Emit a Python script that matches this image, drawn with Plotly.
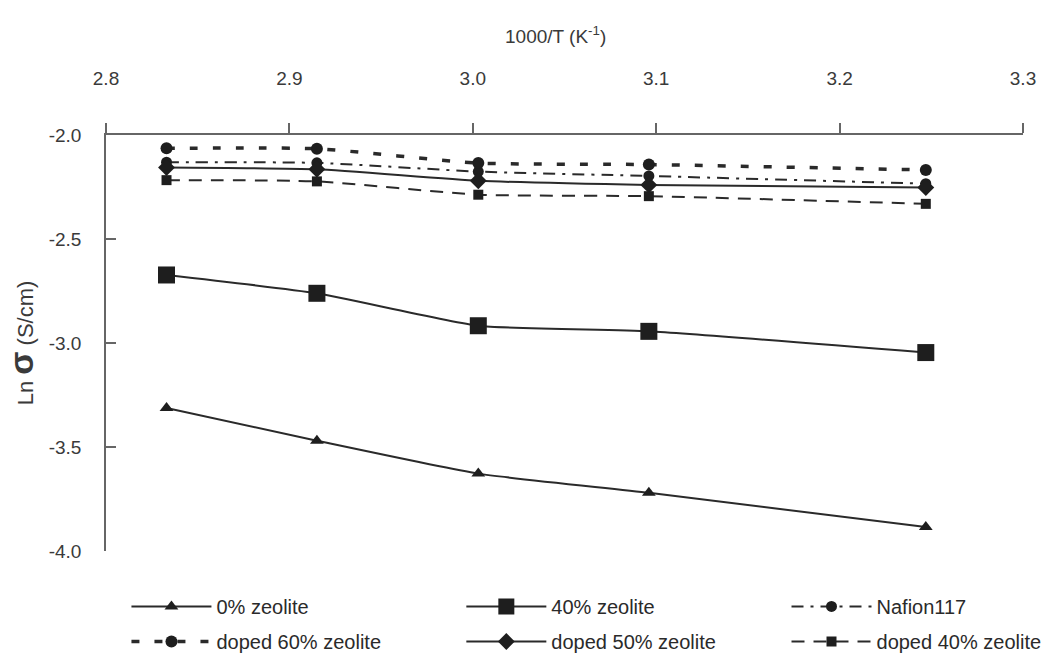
import plotly.graph_objects as go

x_vals = [2.833, 2.915, 3.003, 3.096, 3.247]

names = ["0% zeolite", "40% zeolite", "Nafion117",
         "doped 60% zeolite", "doped 50% zeolite", "doped 40% zeolite"]

zeolite0 = [-3.313, -3.470, -3.628, -3.720, -3.885]
zeolite40 = [-2.673, -2.761, -2.917, -2.944, -3.046]
nafion117 = [-2.131, -2.134, -2.176, -2.197, -2.234]
doped60 = [-2.064, -2.066, -2.135, -2.142, -2.168]
doped50 = [-2.156, -2.165, -2.220, -2.240, -2.253]
doped40 = [-2.217, -2.223, -2.287, -2.294, -2.331]

series = [zeolite0, zeolite40, nafion117, doped60, doped50, doped40]
legend_ids = ["legend", "legend2", "legend3", "legend", "legend2", "legend3"]
styles = [
    dict(dash="solid", width=2, symbol="triangle-up", size=12),
    dict(dash="solid", width=2, symbol="square", size=17),
    dict(dash="12px,7px,3px,7px", width=2, symbol="circle", size=11),
    dict(dash="8px,15px", width=3.5, symbol="circle", size=12),
    dict(dash="solid", width=2, symbol="diamond", size=13),
    dict(dash="13px,9px", width=2, symbol="square", size=10),
]

line_color = "#2a2a2a"
marker_color = "#1e1e1e"
FONT = "Liberation Sans, Arial, sans-serif"

fig = go.Figure()
for name, ys, st, lg in zip(names, series, styles, legend_ids):
    fig.add_trace(go.Scatter(
        x=x_vals, y=ys, name=name, mode="lines+markers",
        legend=lg, legendgroup=name,
        line=dict(color=line_color, width=st["width"], dash=st["dash"],
                  shape="spline", smoothing=0.5),
        marker=dict(symbol=st["symbol"], size=st["size"], color=marker_color),
        hoverinfo="skip",
    ))

legend_common = dict(orientation="v", xanchor="left", yanchor="top", y=-0.0865,
                     font=dict(size=20, family=FONT, color="#2a2a2a"),
                     tracegroupgap=6, itemwidth=80, bgcolor="rgba(0,0,0,0)")

fig.update_layout(
    width=1045, height=660,
    margin=dict(l=106, r=22, t=135, b=109, autoexpand=False),
    paper_bgcolor="white", plot_bgcolor="white",
    font=dict(family=FONT, size=19, color="#3a3a3a"),
    showlegend=True,
    legend=dict(x=0.0223, **legend_common),
    legend2=dict(x=0.3875, **legend_common),
    legend3=dict(x=0.7421, **legend_common),
    xaxis=dict(
        range=[2.8, 3.3], side="top", tickvals=[2.8, 2.9, 3.0, 3.1, 3.2, 3.3],
        ticktext=["2.8", "2.9", "3.0", "3.1", "3.2", "3.3"],
        showline=True, linecolor="#666", linewidth=1.5, mirror=False,
        ticks="outside", ticklen=10, tickcolor="#666", tickwidth=1.5,
        ticklabelstandoff=31, showgrid=False, zeroline=False,
        tickfont=dict(size=19),
    ),
    yaxis=dict(
        range=[-4.0, -2.0], tickvals=[-2.0, -2.5, -3.0, -3.5, -4.0],
        ticktext=["-2.0", "-2.5", "-3.0", "-3.5", "-4.0"],
        showline=True, linecolor="#666", linewidth=1.5, mirror=False,
        ticks="inside", ticklen=10, tickcolor="#666", tickwidth=1.5,
        ticklabelstandoff=19, showgrid=False, zeroline=False,
        tickfont=dict(size=19),
        title=dict(text="Ln <b><span style='font-size:34px'>σ</span></b> (S/cm)",
                   font=dict(size=22), standoff=9),
    ),
    annotations=[dict(
        text="1000/T (K<sup>-1</sup>)", xref="paper", yref="paper",
        x=0.49, y=1.24, xanchor="center", yanchor="middle", showarrow=False,
        font=dict(size=19, family=FONT, color="#3a3a3a"),
    )],
)

fig.write_html("out.html")
